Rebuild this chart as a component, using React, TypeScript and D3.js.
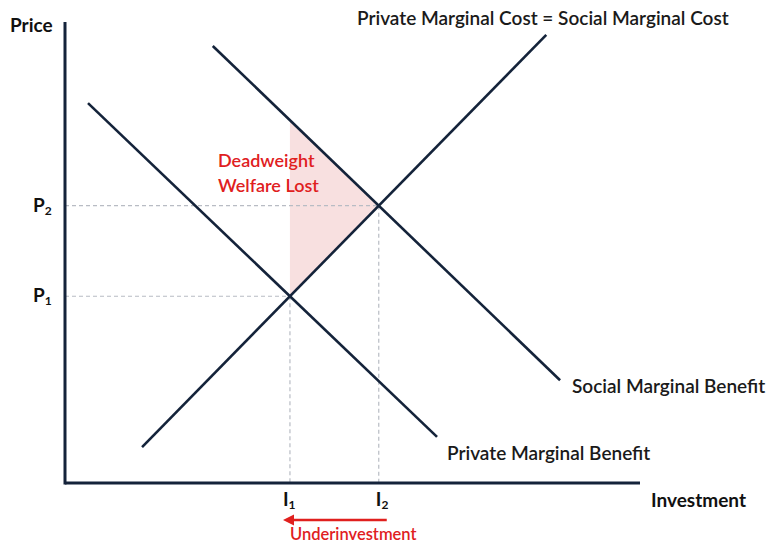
import React from "react";
import * as d3 from "d3";

const W = 772;
const H = 545;

// curve endpoints in data units (investment, price)
const supplyLine: [number, number][] = [[13.4, 7.8], [83.7, 97.2]];
const privateBenefit: [number, number][] = [[4.0, 82.4], [64.7, 10.0]];
const socialBenefit: [number, number][] = [[25.7, 94.8], [86.1, 22.3]];

const curveLabels = [
  "Private Marginal Cost = Social Marginal Cost",
  "Social Marginal Benefit",
  "Private Marginal Benefit",
];

function lineAt(l: [number, number][], x: number) {
  const [[x0, y0], [x1, y1]] = l;
  return y0 + ((y1 - y0) * (x - x0)) / (x1 - x0);
}
function intersect(a: [number, number][], b: [number, number][]): [number, number] {
  const sa = (a[1][1] - a[0][1]) / (a[1][0] - a[0][0]);
  const sb = (b[1][1] - b[0][1]) / (b[1][0] - b[0][0]);
  const ia = a[0][1] - sa * a[0][0];
  const ib = b[0][1] - sb * b[0][0];
  const x = (ib - ia) / (sa - sb);
  return [x, sa * x + ia];
}

export default function App() {
  const x = d3.scaleLinear().domain([0, 100]).range([65, 640]);
  const y = d3.scaleLinear().domain([0, 100]).range([483, 22]);
  const line = d3
    .line<[number, number]>()
    .x((d) => x(d[0]))
    .y((d) => y(d[1]));

  const e1 = intersect(supplyLine, privateBenefit);
  const e2 = intersect(supplyLine, socialBenefit);
  const tri: [number, number][] = [
    [e1[0], e1[1]],
    [e1[0], lineAt(socialBenefit, e1[0])],
    [e2[0], e2[1]],
  ];

  const font = "Lato, 'Open Sans', sans-serif";
  const navy = "#14233a";
  const red = "#e0201e";
  const guide = "#b8bcc4";

  return (
    <svg width={W} height={H} style={{ position: "absolute", left: 0, top: 0 }}>
      <rect width={W} height={H} fill="#fff" />
      <defs>
        <marker id="arr" viewBox="0 0 10 10" refX="2" refY="5" markerWidth="4.5" markerHeight="4.5" orient="auto-start-reverse">
          <path d="M0,0 L10,5 L0,10 z" fill={red} />
        </marker>
      </defs>
      {/* deadweight triangle */}
      <path d={line(tri) + "Z"} fill="#f7dada" opacity={0.85} />
      {/* guides */}
      <g stroke={guide} strokeWidth={1.2} strokeDasharray="4,3" fill="none">
        <line x1={x(0)} x2={x(e1[0])} y1={y(e1[1])} y2={y(e1[1])} />
        <line x1={x(0)} x2={x(e2[0])} y1={y(e2[1])} y2={y(e2[1])} />
        <line x1={x(e1[0])} x2={x(e1[0])} y1={y(e1[1])} y2={y(0)} />
        <line x1={x(e2[0])} x2={x(e2[0])} y1={y(e2[1])} y2={y(0)} />
      </g>
      {/* curves */}
      <g stroke={navy} strokeWidth={2.6} fill="none">
        <path d={line(supplyLine)!} />
        <path d={line(privateBenefit)!} />
        <path d={line(socialBenefit)!} />
      </g>
      {/* axes */}
      <g stroke={navy} strokeWidth={3} fill="none">
        <line x1={x(0)} x2={x(0)} y1={y(100)} y2={y(0) + 1.5} />
        <line x1={x(0)} x2={x(100)} y1={y(0)} y2={y(0)} />
      </g>
      <g fontFamily={font} fontWeight="bold" fill="#111">
        <text x={10} y={32} fontSize={19}>Price</text>
        <text x={651} y={507} fontSize={19}>Investment</text>
        <text x={33} y={y(e2[1]) + 6} fontSize={19}>
          P<tspan fontSize={12} dy={3}>2</tspan>
        </text>
        <text x={33} y={y(e1[1]) + 6} fontSize={19}>
          P<tspan fontSize={12} dy={3}>1</tspan>
        </text>
        <text x={x(e1[0]) - 7} y={506} fontSize={19}>
          I<tspan fontSize={12} dy={3}>1</tspan>
        </text>
        <text x={x(e2[0]) - 3} y={506} fontSize={19}>
          I<tspan fontSize={12} dy={3}>2</tspan>
        </text>
      </g>
      <g fontFamily={font} fontWeight="600" fill="#1a1a1a" fontSize={19}>
        <text x={357} y={25}>{curveLabels[0]}</text>
        <text x={572} y={393}>{curveLabels[1]}</text>
        <text x={447} y={460}>{curveLabels[2]}</text>
      </g>
      <g fontFamily={font} fontWeight="600" fill={red} fontSize={18}>
        <text x={218} y={167}>Deadweight</text>
        <text x={218} y={192}>Welfare Lost</text>
        <text x={290} y={540} fontSize={16.5}>Underinvestment</text>
      </g>
      <line
        x1={x(e2[0]) + 8}
        x2={x(e1[0]) + 2}
        y1={520}
        y2={520}
        stroke={red}
        strokeWidth={2.5}
        markerEnd="url(#arr)"
      />
    </svg>
  );
}
